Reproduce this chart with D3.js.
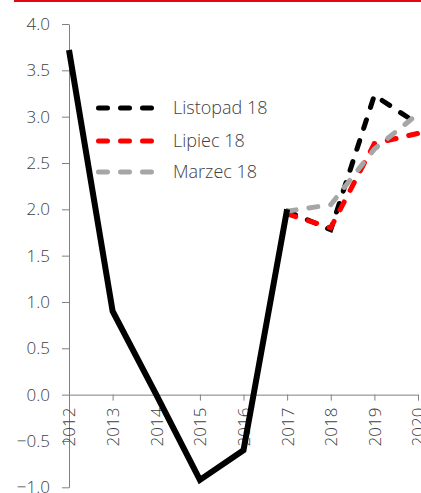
<!DOCTYPE html>
<html><head><meta charset="utf-8">
<script src="https://cdn.jsdelivr.net/npm/d3@7"></script>
<style>
html,body{margin:0;padding:0;background:#fff;}
svg text{font-family:"Open Sans",sans-serif;font-weight:300;fill:#404040;}
</style></head>
<body><svg id="c" width="421" height="493"></svg>
<script>
const years = [2012,2013,2014,2015,2016,2017,2018,2019,2020];
const actualYears = [2012,2013,2014,2015,2016,2017];
const actualValues = [3.72,0.9,0.0,-0.92,-0.6,2.0];
const forecastYears = [2017,2018,2019,2020];
const listopad18 = [1.98,1.78,3.23,2.92];
const lipiec18 = [1.95,1.8,2.71,2.82];
const marzec18 = [1.98,2.05,2.65,3.03];
const seriesNames = ["Listopad 18","Lipiec 18","Marzec 18"];
const seriesColors = ["#000000","#ff0000","#a6a6a6"];
const yTicks = [-1.0,-0.5,0.0,0.5,1.0,1.5,2.0,2.5,3.0,3.5,4.0];

const svg = d3.select("#c");
svg.append("rect").attr("x",14).attr("y",0).attr("width",407).attr("height",2).attr("fill","#e30613");

const x = d3.scaleLinear().domain([2012,2020]).range([69,418]);
const y = d3.scaleLinear().domain([-1,4]).range([487.3,24]);

// y axis
const ya = svg.append("g").attr("transform","translate(69,0)")
  .call(d3.axisLeft(y).tickValues(yTicks).tickSize(7).tickPadding(12).tickFormat(d3.format(".1f")).tickSizeOuter(0));
ya.selectAll("path,line").attr("stroke","#808080");
ya.selectAll("text").style("font-size","17px").attr("fill","#404040");

// x axis at zero
const xa = svg.append("g").attr("transform",`translate(0,${y(0)})`)
  .call(d3.axisBottom(x).tickValues(years).tickSize(6).tickFormat(d3.format("d")).tickSizeOuter(0));
xa.selectAll("path,line").attr("stroke","#808080");
xa.selectAll("text").style("font-size","17px").attr("fill","#404040")
  .attr("text-anchor","end").attr("transform","rotate(-90)")
  .attr("x",-13).attr("y",0).attr("dy","0.35em");

const line = d3.line().x(d=>x(d[0])).y(d=>y(d[1]));

const fc = [listopad18,lipiec18,marzec18];
fc.forEach((vals,i)=>{
  svg.append("path").datum(forecastYears.map((yr,j)=>[yr,vals[j]]))
    .attr("d",line).attr("fill","none").attr("stroke",seriesColors[i])
    .attr("stroke-width",5).attr("stroke-dasharray","9,13").attr("stroke-linecap","round");
});

svg.append("path").datum(actualYears.map((yr,j)=>[yr,actualValues[j]]))
  .attr("d",line).attr("fill","none").attr("stroke","#000").attr("stroke-width",6)
  .attr("stroke-linejoin","miter");

// legend
const legY = [108,141,172];
seriesNames.forEach((n,i)=>{
  svg.append("line").attr("x1",98.5).attr("x2",156).attr("y1",legY[i]).attr("y2",legY[i])
    .attr("stroke",seriesColors[i]).attr("stroke-width",5).attr("stroke-dasharray","9,13").attr("stroke-linecap","round");
  svg.append("text").attr("x",173).attr("y",legY[i]).attr("dy","0.35em").style("font-size","18px").text(n);
});
</script></body></html>
